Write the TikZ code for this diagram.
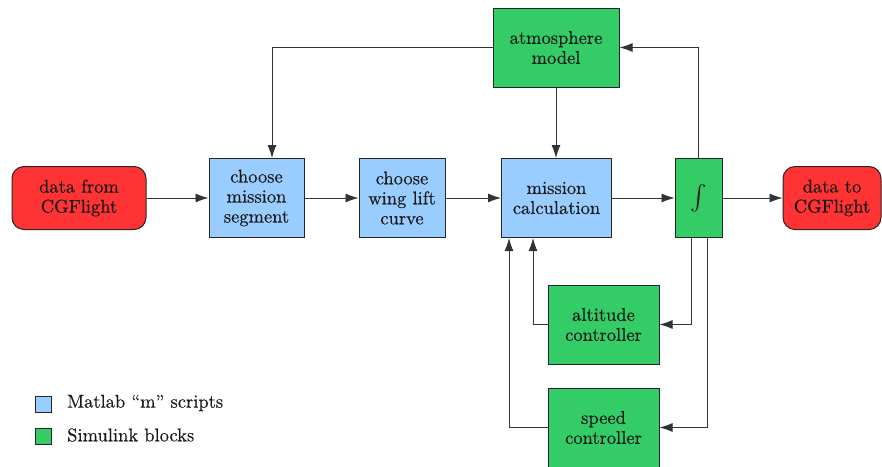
\documentclass[tikz,border=0pt]{standalone}
\usepackage{amsmath}
\usepackage{fontspec}
\newfontfamily\tms{lmroman10-regular.otf}[FakeBold=0.4]
\usetikzlibrary{arrows.meta}
\definecolor{mblue}{HTML}{99CCFF}
\definecolor{sgreen}{HTML}{33CC66}
\definecolor{dred}{HTML}{FF3333}
\definecolor{txt}{HTML}{1A1A1A}
\begin{document}
\begin{tikzpicture}[x=1pt,y=-1pt,
  box/.style={draw=black!85, line width=1pt, align=center, text=txt,
    font=\tms\fontsize{18.5}{20}\selectfont, inner sep=0pt},
  mscript/.style={box, fill=mblue},
  sblock/.style={box, fill=sgreen},
  iobox/.style={box, fill=dred, rounded corners=12pt},
  conn/.style={draw=black!80, line width=0.9pt, -{Latex[length=13pt,width=9pt]}},
  legsq/.style={draw=black!85, line width=0.9pt, minimum size=16pt, inner sep=0pt},
  legtxt/.style={anchor=west, inner sep=0pt, text=txt, font=\tms\fontsize{18.5}{20}\selectfont}
]
\useasboundingbox (0,0) rectangle (882,466);

% main row
\node[iobox, minimum width=134pt, minimum height=63pt] (from) at (79,198) {data from\\CGFlight};
\node[mscript, minimum width=95pt, minimum height=79pt] (cms) at (256.5,198) {choose\\mission\\segment};
\node[mscript, minimum width=86pt, minimum height=79pt] (wing) at (402,198) {choose\\wing lift\\curve};
\node[mscript, minimum width=110pt, minimum height=79pt] (calc) at (556.5,198) {mission\\calculation};
\node[sblock, minimum width=47pt, minimum height=79pt, font=\tms\fontsize{25}{25}\selectfont] (integ) at (698.5,198) {$\int$};
\node[iobox, minimum width=98pt, minimum height=63pt] (to) at (832,198) {data to\\CGFlight};

% other blocks
\node[sblock, minimum width=126pt, minimum height=79pt] (atm) at (556,47.5) {atmosphere\\model};
\node[sblock, minimum width=111pt, minimum height=79pt] (alt) at (603.5,324.5) {altitude\\controller};
\node[sblock, minimum width=111pt, minimum height=79pt] (speed) at (603.5,427.5) {speed\\controller};

% connectors
\draw[conn] (from.east) -- (cms.west);
\draw[conn] (cms.east) -- (wing.west);
\draw[conn] (wing.east) -- (calc.west);
\draw[conn] (calc.east) -- (integ.west);
\draw[conn] (integ.east) -- (to.west);
\draw[conn] (atm.west) -| ([xshift=15.5pt]cms.north);
\draw[conn] (atm.south) -- (atm.south |- calc.north);
\draw[conn] (integ.north) |- (atm.east);
\draw[conn] ([xshift=-7.5pt]integ.south) |- (alt.east);
\draw[conn] ([xshift=8.5pt]integ.south) |- (speed.east);
\draw[conn] (alt.west) -| ([xshift=-23.5pt]calc.south);
\draw[conn] (speed.west) -| ([xshift=-47.5pt]calc.south);

% legend
\node[legsq, fill=mblue] (leg1) at (43,404) {};
\node[legsq, fill=sgreen] (leg2) at (43,436) {};
\node[legtxt] (legt1) at (67,403) {Matlab “m” scripts};
\node[legtxt] (legt2) at (67,435) {Simulink blocks};
\end{tikzpicture}
\end{document}
